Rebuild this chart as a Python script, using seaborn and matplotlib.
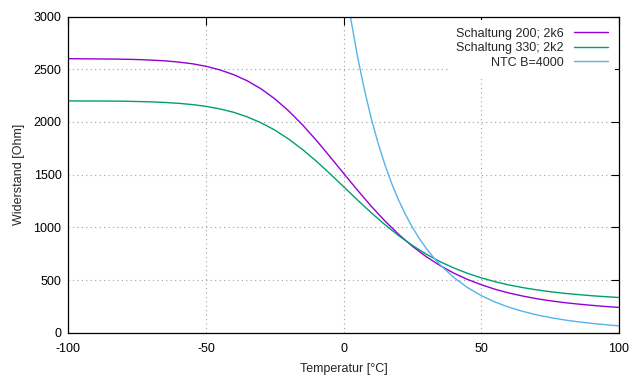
import pandas as pd
import matplotlib
matplotlib.use("Agg")
import matplotlib.pyplot as plt
import seaborn as sns

# values
temps = [-100, -95, -90, -85, -80, -75, -70, -65, -60, -55, -50, -45, -40, -35, -30,
         -25, -20, -15, -10, -5, 0, 5, 10, 15, 20, 25, 30, 35, 40, 45, 50, 55, 60,
         65, 70, 75, 80, 85, 90, 95, 100]
schaltung_200 = [2600, 2599, 2598, 2597, 2595, 2592, 2587, 2580, 2568, 2552, 2528,
                 2494, 2449, 2390, 2314, 2219, 2105, 1974, 1828, 1672, 1512, 1354,
                 1202, 1061, 934, 821, 723, 639, 567, 507, 457, 414, 379, 350, 325,
                 305, 288, 274, 262, 251, 242]
schaltung_330 = [2200, 2199, 2199, 2198, 2197, 2194, 2191, 2185, 2177, 2165, 2148,
                 2124, 2092, 2048, 1992, 1923, 1838, 1740, 1630, 1510, 1386, 1261,
                 1140, 1026, 922, 829, 747, 676, 616, 565, 522, 486, 455, 430, 409,
                 391, 376, 364, 353, 344, 336]
ntc_temps = [-5, 0, 2.5, 5, 7.5, 10, 12.5, 15, 17.5, 20, 22.5, 25, 27.5, 30, 32.5,
             35, 40, 45, 50, 55, 60, 65, 70, 75, 80, 85, 90, 95, 100]
ntc = [4487, 3414, 2990, 2624, 2309, 2036, 1799, 1593, 1413, 1257, 1120, 1000, 894,
       802, 720, 647, 526, 430, 354, 293, 244, 205, 172, 146, 124, 106, 91, 78, 67]

labels = ['Schaltung 200; 2k6', 'Schaltung 330; 2k2', 'NTC B=4000']
colors = ['#9400d3', '#009e73', '#56b4e9']

df = pd.concat([
    pd.DataFrame({'T': temps, 'R': schaltung_200, 'Kurve': labels[0]}),
    pd.DataFrame({'T': temps, 'R': schaltung_330, 'Kurve': labels[1]}),
    pd.DataFrame({'T': ntc_temps, 'R': ntc, 'Kurve': labels[2]}),
])

sns.set_style('white')
plt.rcParams['font.family'] = ['Liberation Sans', 'DejaVu Sans']
plt.rcParams['font.size'] = 9
plt.rcParams['axes.unicode_minus'] = False

fig, ax = plt.subplots(figsize=(6.4, 3.84), dpi=100)
fig.subplots_adjust(left=0.107, right=0.967, top=0.957, bottom=0.133)

sns.lineplot(data=df, x='T', y='R', hue='Kurve', hue_order=labels,
             palette=dict(zip(labels, colors)), sort=False, linewidth=1.0, ax=ax)

ax.set_xlim(-100, 100)
ax.set_ylim(0, 3000)
ax.set_xticks([-100, -50, 0, 50, 100])
ax.set_yticks([0, 500, 1000, 1500, 2000, 2500, 3000])
ax.grid(True, color='#a0a0a0', linestyle=(0, (1, 3)), linewidth=0.8)
ax.tick_params(direction='in', length=5.5, width=0.8, top=True, right=True,
               labelsize=9, colors='black')
ax.tick_params(axis='x', pad=7)
ax.tick_params(axis='y', pad=5)
for s in ax.spines.values():
    s.set_color('black')
    s.set_linewidth(0.9)

ax.set_xlabel('Temperatur [°C]', fontsize=9, labelpad=6)
ax.set_ylabel('Widerstand [Ohm]', fontsize=9, labelpad=6)

leg = ax.legend(loc='upper right', markerfirst=False, handlelength=2.7,
                labelspacing=0.2, borderaxespad=0.3, borderpad=0.6,
                frameon=True, fancybox=False, fontsize=9)
leg.get_frame().set_facecolor('white')
leg.get_frame().set_edgecolor('none')
leg.get_frame().set_alpha(1)
for t in leg.get_texts():
    t.set_ha('right')

fig.savefig('out.png', dpi=100)
